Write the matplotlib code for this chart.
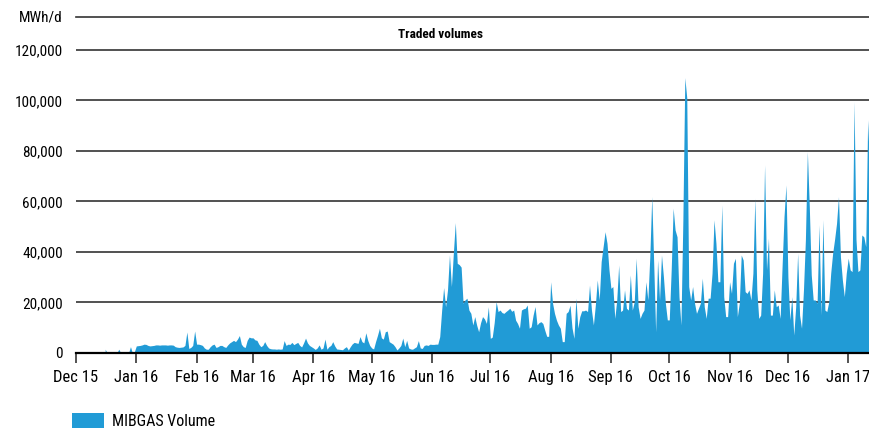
import matplotlib.pyplot as plt
import matplotlib.dates as mdates
from matplotlib.ticker import FuncFormatter
import pandas as pd

# Daily MIBGAS traded volume (MWh/d), one list per month
dec15 = [1500, 0, 0, 0, 0, 0, 0, 1500, 0, 0, 0, 0, 0, 2500, 0, 500]  # from 16 Dec
jan16 = [2800, 2900, 3000, 3200, 3500, 3400, 3000, 2800, 2900, 3000,
         3200, 3200, 3100, 3200, 3200, 3200, 3100, 3200, 3200, 3100,
         2500, 2300, 2200, 2300, 2400, 3000, 8300, 1800, 2200, 3000, 8700]
feb16 = [3500, 3500, 3300, 3000, 2000, 1500, 1500, 2500, 3200, 3500,
         2200, 2500, 3000, 3000, 2500, 2200, 3200, 4000, 4500, 5000,
         4500, 5500, 6900, 3500, 2500, 2200, 5000, 6300, 6000]
mar16 = [6000, 5200, 5000, 3500, 2500, 3000, 4500, 3000, 2000, 1700,
         1600, 1600, 1500, 1600, 1500, 1600, 4900, 3000, 3500, 3400,
         4200, 3300, 3800, 4200, 3000, 2400, 4000, 5900, 4000, 3000, 2500]
apr16 = [2000, 1400, 2000, 3200, 1500, 2000, 5500, 1500, 2500, 3000,
         4500, 2800, 1600, 1500, 1400, 1300, 2000, 2500, 1200, 2500,
         3600, 4200, 4000, 3800, 6500, 4500, 4000, 8000, 5000, 3000]
may16 = [2000, 1600, 4500, 7000, 9800, 6000, 5500, 8400, 8700, 4500,
         4000, 3500, 2500, 1200, 2000, 3000, 5900, 2500, 5000, 2000,
         1600, 1500, 2000, 2500, 4900, 2000, 1800, 3000, 3200, 3000, 3500]
jun16 = [3400, 3400, 3500, 3500, 6500, 17000, 25900, 18300, 25000, 38800,
         26300, 39500, 51600, 35500, 35000, 34000, 19700, 21000, 21700, 17000,
         15700, 11100, 14400, 11000, 8400, 12000, 14400, 13500, 11700, 18300]
jul16 = [5800, 6300, 12000, 20300, 16400, 17000, 16000, 15700, 16400, 17000,
         17700, 16500, 17000, 13000, 11700, 9800, 17000, 17500, 17700, 19000,
         9800, 10400, 15000, 18400, 11100, 12000, 12400, 11700, 9000, 6600, 6600]
aug16 = [28200, 19700, 15700, 13000, 11100, 9800, 4500, 4500, 15700, 16400,
         18900, 10000, 5800, 21700, 9800, 14400, 16700, 16700, 17000, 16400,
         26900, 17000, 11100, 19000, 28900, 21000, 36200, 42100, 48000, 43400, 33000]
sep16 = [25600, 26300, 13700, 21000, 34800, 16400, 17000, 25000, 17700, 17000,
         30900, 17000, 20300, 37500, 18300, 13700, 15700, 17000, 28200, 21000,
         38100, 61900, 35500, 8400, 36800, 21000, 38800, 30200, 19700, 13100]
oct16 = [13100, 32900, 57300, 48700, 46000, 22300, 11100, 52700, 109000, 101000,
         26300, 21000, 26300, 19700, 15700, 17700, 19700, 29600, 18300, 13700,
         21700, 21700, 31600, 52700, 43400, 28200, 28200, 58600, 22300, 14400, 14400]
nov16 = [28200, 23600, 35500, 37500, 14400, 19700, 38800, 36800, 24300, 23600,
         25000, 21000, 31600, 61200, 25000, 13700, 15000, 31600, 74400, 32900,
         45400, 15000, 15000, 25000, 18300, 19000, 13700, 34200, 54000, 66500]
dec16 = [30000, 13100, 22300, 7100, 18300, 39500, 15000, 9800, 25000, 45000,
         79700, 57900, 30900, 21000, 21000, 19700, 50700, 15000, 52700, 17000,
         16400, 20300, 31600, 39500, 45000, 51300, 61900, 38100, 28900, 22300, 31600]
jan17 = [37500, 32900, 32200, 99500, 45000, 32200, 32900, 46700, 46000, 42100,
         92300, 72500]

month_starts = ['2015-12-16', '2016-01-01', '2016-02-01', '2016-03-01', '2016-04-01',
                '2016-05-01', '2016-06-01', '2016-07-01', '2016-08-01', '2016-09-01',
                '2016-10-01', '2016-11-01', '2016-12-01', '2017-01-01']
monthly = [dec15, jan16, feb16, mar16, apr16, may16, jun16, jul16, aug16,
           sep16, oct16, nov16, dec16, jan17]

dates = []
volumes = []
for start, vals in zip(month_starts, monthly):
    dates.extend(pd.date_range(start, periods=len(vals), freq='D'))
    volumes.extend(vals)
dates = pd.DatetimeIndex(dates)

plt.rcParams['font.family'] = ['Roboto Condensed', 'DejaVu Sans']
blue = '#219BD6'
grid_col = '#333333'

fig = plt.figure(figsize=(8.7, 4.32), dpi=100)
ax = fig.add_axes([76 / 870, 79 / 432, 794 / 870, 336 / 432])

ax.fill_between(dates, volumes, color=blue, lw=0, label='MIBGAS Volume', zorder=2)

x0 = pd.Timestamp('2015-12-01')
ax.set_xlim(x0, x0 + pd.Timedelta(days=408.2))
ax.set_ylim(0, 133000)
ax.set_yticks(range(0, 120001, 20000))
ax.yaxis.set_major_formatter(FuncFormatter(lambda v, p: f'{v:,.0f}'))

ax.grid(axis='y', color=grid_col, lw=1.2)
ax.set_axisbelow(True)
for side in ['left', 'right']:
    ax.spines[side].set_visible(False)
ax.spines['top'].set_color(grid_col)
ax.spines['top'].set_linewidth(1.2)
ax.spines['bottom'].set_color('black')
ax.spines['bottom'].set_linewidth(1.6)
ax.spines['bottom'].set_zorder(3)

ax.xaxis.set_major_locator(mdates.MonthLocator())
ax.xaxis.set_major_formatter(mdates.DateFormatter('%b %y'))
ax.tick_params(axis='x', length=7, width=1.3, color='#444444', pad=5, labelsize=12)
ax.tick_params(axis='y', length=0, pad=9.5, labelsize=11)

ax.text(-13 / 794, 1.0, 'MWh/d', transform=ax.transAxes, ha='right', va='center', fontsize=11)
fig.text(441 / 870, 1 - 35 / 432, 'Traded volumes', ha='center', va='center',
         fontweight='bold', fontsize=9.5)

fig.legend(loc='center left', bbox_to_anchor=(58 / 870, 1 - 421 / 432), frameon=False,
           handlelength=2.0, handleheight=1.05, handletextpad=0.5, fontsize=11.5)

fig.savefig('out.png', dpi=100)
